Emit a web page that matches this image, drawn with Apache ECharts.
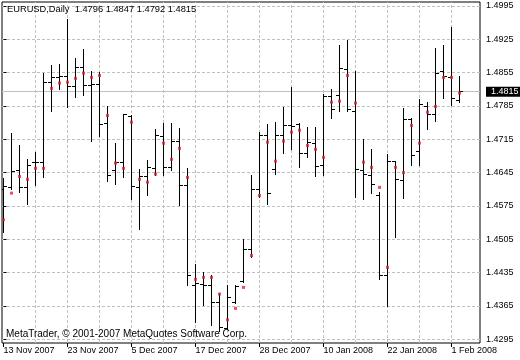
<!DOCTYPE html>
<html><head><meta charset="utf-8">
<script src="https://cdn.jsdelivr.net/npm/echarts@6/dist/echarts.min.js"></script>
<style>html,body{margin:0;padding:0;background:#fff}#c{width:520px;height:360px}</style>
</head><body><div id="c"></div>
<script>
const symbolName = 'EURUSD,Daily';
const copyright = 'MetaTrader, \u00a9 2001-2007 MetaQuotes Software Corp.';
const dates = ["13 Nov 2007","14 Nov 2007","15 Nov 2007","16 Nov 2007","19 Nov 2007","20 Nov 2007","21 Nov 2007","22 Nov 2007","23 Nov 2007","26 Nov 2007",
"27 Nov 2007","28 Nov 2007","29 Nov 2007","30 Nov 2007","3 Dec 2007","4 Dec 2007","5 Dec 2007","6 Dec 2007","7 Dec 2007","10 Dec 2007",
"11 Dec 2007","12 Dec 2007","13 Dec 2007","14 Dec 2007","17 Dec 2007","18 Dec 2007","19 Dec 2007","20 Dec 2007","21 Dec 2007","24 Dec 2007",
"26 Dec 2007","27 Dec 2007","28 Dec 2007","31 Dec 2007","2 Jan 2008","3 Jan 2008","4 Jan 2008","7 Jan 2008","8 Jan 2008","9 Jan 2008",
"10 Jan 2008","11 Jan 2008","14 Jan 2008","15 Jan 2008","16 Jan 2008","17 Jan 2008","18 Jan 2008","21 Jan 2008","22 Jan 2008","23 Jan 2008",
"24 Jan 2008","25 Jan 2008","28 Jan 2008","29 Jan 2008","30 Jan 2008","31 Jan 2008","1 Feb 2008","4 Feb 2008"];
const open = [1.4609,1.4614,1.4650,1.4614,1.4667,1.4666,1.4835,1.4845,1.4847,1.4826,
1.4866,1.4828,1.4831,1.4749,1.4649,1.4667,1.4763,1.4614,1.4637,1.4654,
1.4721,1.4656,1.4711,1.4617,1.4409,1.4411,1.4409,1.4373,1.4318,1.4373,
1.4416,1.4484,1.4610,1.4722,1.4652,1.4724,1.4743,1.4746,1.4686,1.4707,
1.4661,1.4805,1.4807,1.4862,1.4773,1.4649,1.4640,1.4598,1.4429,1.4669,
1.4629,1.4757,1.4690,1.4784,1.4768,1.4858,1.4845,1.4796];
const high = [1.4633,1.4728,1.4703,1.4672,1.4687,1.4854,1.4869,1.4873,1.4966,1.4885,
1.4904,1.4857,1.4855,1.4784,1.4707,1.4768,1.4765,1.4651,1.4670,1.4735,
1.4749,1.4749,1.4737,1.4654,1.4453,1.4435,1.4428,1.4392,1.4409,1.4409,
1.4504,1.4638,1.4729,1.4747,1.4750,1.4782,1.4824,1.4749,1.4740,1.4740,
1.4810,1.4819,1.4913,1.4922,1.4858,1.4714,1.4693,1.4603,1.4684,1.4669,
1.4779,1.4758,1.4798,1.4793,1.4906,1.4913,1.4949,1.4847];
const low = [1.4519,1.4609,1.4603,1.4579,1.4619,1.4635,1.4773,1.4820,1.4782,1.4803,
1.4807,1.4710,1.4721,1.4626,1.4621,1.4635,1.4588,1.4525,1.4596,1.4640,
1.4640,1.4649,1.4576,1.4409,1.4330,1.4365,1.4324,1.4311,1.4315,1.4371,
1.4414,1.4467,1.4593,1.4579,1.4642,1.4685,1.4693,1.4656,1.4677,1.4637,
1.4640,1.4758,1.4773,1.4773,1.4592,1.4588,1.4602,1.4421,1.4364,1.4509,
1.4590,1.4660,1.4660,1.4735,1.4752,1.4800,1.4786,1.4792];
const close = [1.4616,1.4648,1.4614,1.4660,1.4666,1.4835,1.4845,1.4846,1.4826,1.4866,
1.4828,1.4831,1.4747,1.4638,1.4667,1.4767,1.4616,1.4637,1.4656,1.4722,
1.4656,1.4711,1.4617,1.4429,1.4413,1.4409,1.4372,1.4320,1.4382,1.4406,
1.4484,1.4609,1.4722,1.4602,1.4722,1.4743,1.4741,1.4686,1.4709,1.4658,
1.4805,1.4777,1.4864,1.4777,1.4652,1.4642,1.4621,1.4429,1.4669,1.4631,
1.4756,1.4681,1.4789,1.4768,1.4854,1.4847,1.4801,1.4815];
const markers = [1.4546,1.4602,1.4637,1.4631,1.4654,1.4654,1.4822,1.4833,1.4835,1.4843,
1.4854,1.4845,1.4849,1.4765,1.4665,1.4654,1.4751,1.4631,1.4625,1.4642,
1.4707,1.4673,1.4696,1.4635,1.4421,1.4425,1.4425,1.4390,1.4336,1.4360,
1.4404,1.4471,1.4597,1.4709,1.4669,1.4711,1.4730,1.4734,1.4702,1.4694,
1.4677,1.4793,1.4795,1.4849,1.4791,1.4667,1.4656,1.4614,1.4446,1.4656,
1.4645,1.4744,1.4707,1.4772,1.4784,1.4845,1.4845,1.4812];
const xLabelIdx = [0,8,16,24,32,40,48,56];
const xGridIdx = [4,8,12,16,20,24,28,32,36,40,44,48,52,56];
const yTicks = [1.4295,1.4365,1.4435,1.4505,1.4575,1.4645,1.4715,1.4785,1.4855,1.4925,1.4995];

const FONT = '"Liberation Sans", Arial, sans-serif';
const xMin = -0.1875, xMax = 59.5625;
const yMin = 1.428723, yMax = 1.500333;
const last = dates.length - 1;
const fmt = v => Number(v).toFixed(4);
const gridStyle = {color:'#c0c0c0', type:[3,2], width:1};

const ohlcData = dates.map((d,i)=>[i, open[i], high[i], low[i], close[i]]);
const markerData = markers.map((v,i)=>[i, v]);

function renderOHLC(params, api) {
  const i = api.value(0);
  const o = api.coord([i, api.value(1)]);
  const h = api.coord([i, api.value(2)]);
  const l = api.coord([i, api.value(3)]);
  const c = api.coord([i, api.value(4)]);
  const cx = Math.floor(o[0]) + 0.5;
  const snap = y => Math.floor(y) + 0.5;
  const st = {stroke:'#000', lineWidth:1};
  return {type:'group', children:[
    {type:'line', shape:{x1:cx, y1:Math.floor(h[1]), x2:cx, y2:Math.floor(l[1]) + 1}, style:st},
    {type:'line', shape:{x1:cx - 3.5, y1:snap(o[1]), x2:cx - 0.5, y2:snap(o[1])}, style:st},
    {type:'line', shape:{x1:cx + 0.5, y1:snap(c[1]), x2:cx + 3.5, y2:snap(c[1])}, style:st}
  ]};
}

const chart = echarts.init(document.getElementById('c'), null, {renderer:'canvas'});
chart.setOption({
  animation:false,
  backgroundColor:'#fff',
  title:[
    {text: symbolName + '  ' + [open[last], high[last], low[last], close[last]].map(fmt).join(' '),
     left:7, top:5, padding:0, textStyle:{fontFamily:FONT, fontSize:9.3, fontWeight:'normal', color:'#000'}},
    {text: copyright, left:6, top:329, padding:0,
     textStyle:{fontFamily:FONT, fontSize:10, fontWeight:'normal', color:'#000'}}
  ],
  grid:{left:2, top:2, right:40, bottom:17, show:true, borderColor:'#000', borderWidth:1,
        backgroundColor:'#fff', containLabel:false, outerBoundsMode:'none'},
  xAxis:{type:'value', min:xMin, max:xMax, position:'bottom',
     axisLine:{show:false},
     axisTick:{show:true, length:4, customValues:xLabelIdx, lineStyle:{color:'#000'}},
     axisLabel:{customValues:xLabelIdx, formatter:v => dates[Math.round(v)], align:'left', margin:3,
                fontFamily:FONT, fontSize:9, color:'#000'},
     splitLine:{show:false}},
  yAxis:{type:'value', position:'right', min:yMin, max:yMax,
     axisLine:{show:false},
     axisTick:{show:true, length:3, customValues:yTicks, lineStyle:{color:'#000'}},
     axisLabel:{customValues:yTicks, formatter:fmt, margin:6, fontFamily:FONT, fontSize:9, color:'#000'},
     splitLine:{show:true, lineStyle:gridStyle}},
  series:[
    {type:'line', name:'vgrid', data:[], z:1, silent:true,
     markLine:{silent:true, symbol:'none', animation:false, z:0, label:{show:false},
       lineStyle:gridStyle, data:xGridIdx.map(v => ({xAxis:v}))}},
    {type:'custom', name:'OHLC', data:ohlcData, renderItem:renderOHLC,
     encode:{x:0, y:[1,2,3,4]}, clip:true, z:3,
     markLine:{silent:true, symbol:'none', animation:false, precision:4, z:1,
       lineStyle:{color:'#c0c0c0', type:'solid', width:1},
       label:{show:true, position:'end', formatter:p => fmt(p.value), distance:6,
              backgroundColor:'#000', color:'#fff', padding:[1,5,0,5], lineHeight:9,
              fontFamily:FONT, fontSize:9},
       data:[{yAxis: close[last]}]}},
    {type:'scatter', name:'marker', data:markerData,
     symbol:'rect', symbolSize:3, itemStyle:{color:'#e8203a'}, z:4}
  ]
});
</script></body></html>
